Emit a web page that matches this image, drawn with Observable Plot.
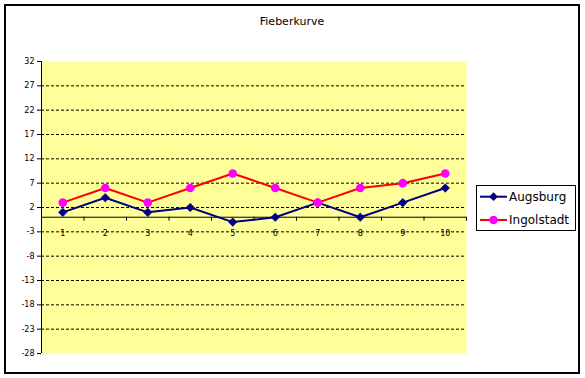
<!DOCTYPE html>
<html><head><meta charset="utf-8">
<script src="https://cdn.jsdelivr.net/npm/d3@7"></script>
<script src="https://cdn.jsdelivr.net/npm/@observablehq/plot@0.6"></script>
<style>
html,body{margin:0;padding:0;background:#fff;}
#chart{position:relative;width:585px;height:378px;font-family:"DejaVu Sans",sans-serif;overflow:hidden;}
#chart > svg{position:absolute;left:0;top:0;}
#border{position:absolute;left:4px;top:4px;width:576px;height:370px;box-sizing:border-box;border:2px solid #000;pointer-events:none}
#title{position:absolute;left:4px;top:15px;width:576px;text-align:center;font-size:11px;line-height:13px;color:#000;}
</style></head>
<body>
<div id="chart">
  <div id="title"></div>
  <div id="border"></div>
</div>
<script>
const title = "Fieberkurve";
const categories = [1, 2, 3, 4, 5, 6, 7, 8, 9, 10];
const seriesNames = ["Augsburg", "Ingolstadt"];
const augsburg = [1, 4, 1, 2, -1, 0, 3, 0, 3, 6];
const ingolstadt = [3, 6, 3, 6, 9, 6, 3, 6, 7, 9];
const yTicks = [32, 27, 22, 17, 12, 7, 2, -3, -8, -13, -18, -23, -28];

const yDomain = [d3.min(yTicks), d3.max(yTicks)];
const xDomain = [categories[0] - 0.5, categories[categories.length - 1] + 0.5];
const boundaries = [xDomain[0], ...categories.map(c => c + 0.5)];
const gridTicks = yTicks.filter(t => t > yDomain[0] && t < yDomain[1]);

const mL = 41, mR = 119, mT = 61, mB = 25, W = 585, H = 378;
const pxPerUnitY = (H - mT - mB) / (yDomain[1] - yDomain[0]);
const tickLen = 4 / pxPerUnitY;

const dataA = categories.map((c, i) => ({x: c, y: augsburg[i]}));
const dataI = categories.map((c, i) => ({x: c, y: ingolstadt[i]}));

const navy = "#000080", red = "#FF0000", magenta = "#FF00FF", yellow = "#FFFF99";

const plot = Plot.plot({
  width: W, height: H,
  marginLeft: mL, marginRight: mR, marginTop: mT, marginBottom: mB,
  style: {background: "transparent", fontFamily: "DejaVu Sans, sans-serif", fontSize: "8px", color: "#000"},
  x: {domain: xDomain, axis: null},
  y: {domain: yDomain, ticks: yTicks, tickSize: 4, tickPadding: 3, label: null, tickFormat: d => String(d)},
  marks: [
    Plot.frame({fill: yellow, stroke: "none"}),
    Plot.ruleY(gridTicks, {stroke: "#000", strokeWidth: 1, strokeDasharray: "3,2"}),
    Plot.ruleX([xDomain[0]], {stroke: "#000", strokeWidth: 1}),
    Plot.ruleY([0], {stroke: "#000", strokeWidth: 1}),
    Plot.ruleX(boundaries, {x: d => d, y1: 0, y2: -tickLen, stroke: "#000", strokeWidth: 1}),
    Plot.text(categories, {x: d => d, y: 0, dy: 16, text: d => String(d), fill: "#000", fontSize: 8}),
    Plot.line(dataA, {x: "x", y: "y", stroke: navy, strokeWidth: 2}),
    Plot.dot(dataA, {x: "x", y: "y", symbol: "diamond2", r: 3.9, fill: navy, stroke: navy, strokeWidth: 0.5}),
    Plot.line(dataI, {x: "x", y: "y", stroke: red, strokeWidth: 2}),
    Plot.dot(dataI, {x: "x", y: "y", symbol: "circle", r: 4.3, fill: magenta, stroke: "none"})
  ]
});
const chart = document.getElementById("chart");
chart.insertBefore(plot, chart.firstChild);
document.getElementById("title").textContent = title;

// legend
const lg = d3.create("svg").attr("id", "legend").attr("width", 100).attr("height", 46)
  .style("position", "absolute").style("left", "476px").style("top", "185px");
lg.append("rect").attr("x", 0.5).attr("y", 0.5).attr("width", 99).attr("height", 45)
  .attr("fill", "#fff").attr("stroke", "#000");
const rows = [
  {name: seriesNames[0], stroke: navy, fill: navy, sym: d3.symbolDiamond2, size: 48, y: 11.7},
  {name: seriesNames[1], stroke: red, fill: magenta, sym: d3.symbolCircle, size: 58, y: 35}
];
for (const r of rows) {
  lg.append("line").attr("x1", 4).attr("x2", 31).attr("y1", r.y).attr("y2", r.y)
    .attr("stroke", r.stroke).attr("stroke-width", 2);
  lg.append("path").attr("d", d3.symbol(r.sym, r.size)()).attr("transform", `translate(17.5,${r.y})`)
    .attr("fill", r.fill);
  lg.append("text").attr("x", 33).attr("y", r.y).attr("dy", "0.36em")
    .attr("font-family", "DejaVu Sans, sans-serif").attr("font-size", 12).attr("fill", "#000").text(r.name);
}
chart.appendChild(lg.node());
</script>
</body></html>
